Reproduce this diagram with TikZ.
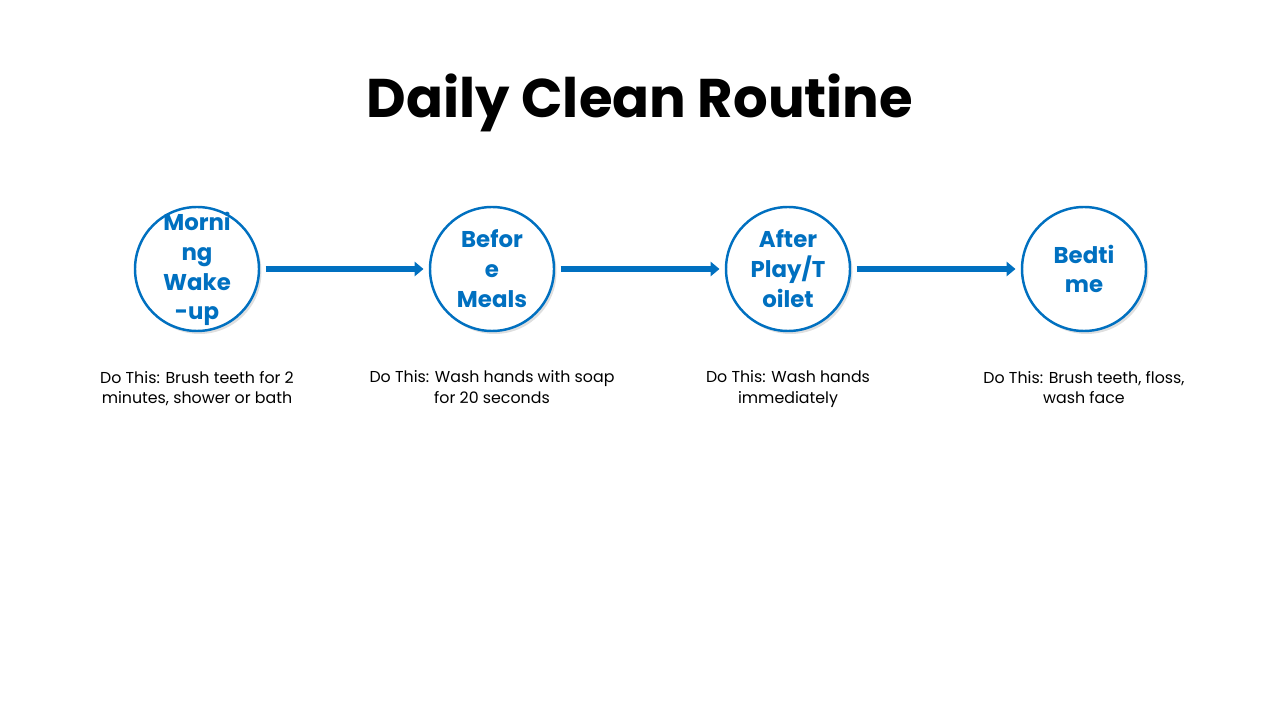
\documentclass[tikz,border=0pt]{standalone}
\usepackage{fontspec}
\setmainfont{Poppins}
\usetikzlibrary{positioning, shadows, arrows.meta}
\definecolor{stepblue}{HTML}{0070C0}
\tikzset{
  stage/.style = {circle, draw=stepblue, line width=1.4pt, fill=white,
    minimum size=2.48cm, inner sep=0pt, align=center, text=stepblue,
    font=\fontsize{13}{17}\selectfont\bfseries,
    drop shadow={opacity=0.25, shadow xshift=0.5mm, shadow yshift=-0.6mm}},
  note/.style = {align=center, font=\fontsize{9}{11.5}\selectfont},
  link/.style = {draw=stepblue, line width=3pt, -{Triangle[length=5pt,width=8pt]},
    shorten <=3pt, shorten >=3pt}
}
\begin{document}
\begin{tikzpicture}
\useasboundingbox (0,0) rectangle (25.6,14.4);
\node[font=\fontsize{31}{36}\selectfont\bfseries] (title) at (12.8,12.35) {Daily Clean Routine};
% stages
\node[stage, inner sep=-6pt] (wake) at (3.94,9.02) {Morni\\ng\\Wake\\-up};
\node[stage] (meals) at (9.84,9.02) {Befor\\e\\Meals};
\node[stage] (play) at (15.76,9.02) {After\\Play/T\\oilet};
\node[stage] (bed) at (21.68,9.02) {Bedti\\me};
% arrows
\draw[link] (wake) -- (meals);
\draw[link] (meals) -- (play);
\draw[link] (play) -- (bed);
% notes
\node[note, below=0.65cm of meals.south -| wake] (n1) {Do This: Brush teeth for 2\\minutes, shower or bath};
\node[note, below=0.65cm of meals] (n2) {Do This: Wash hands with soap\\for 20 seconds};
\node[note, below=0.65cm of play] (n3) {Do This: Wash hands\\immediately};
\node[note, below=0.65cm of bed] (n4) {Do This: Brush teeth, floss,\\wash face};
\end{tikzpicture}
\end{document}
